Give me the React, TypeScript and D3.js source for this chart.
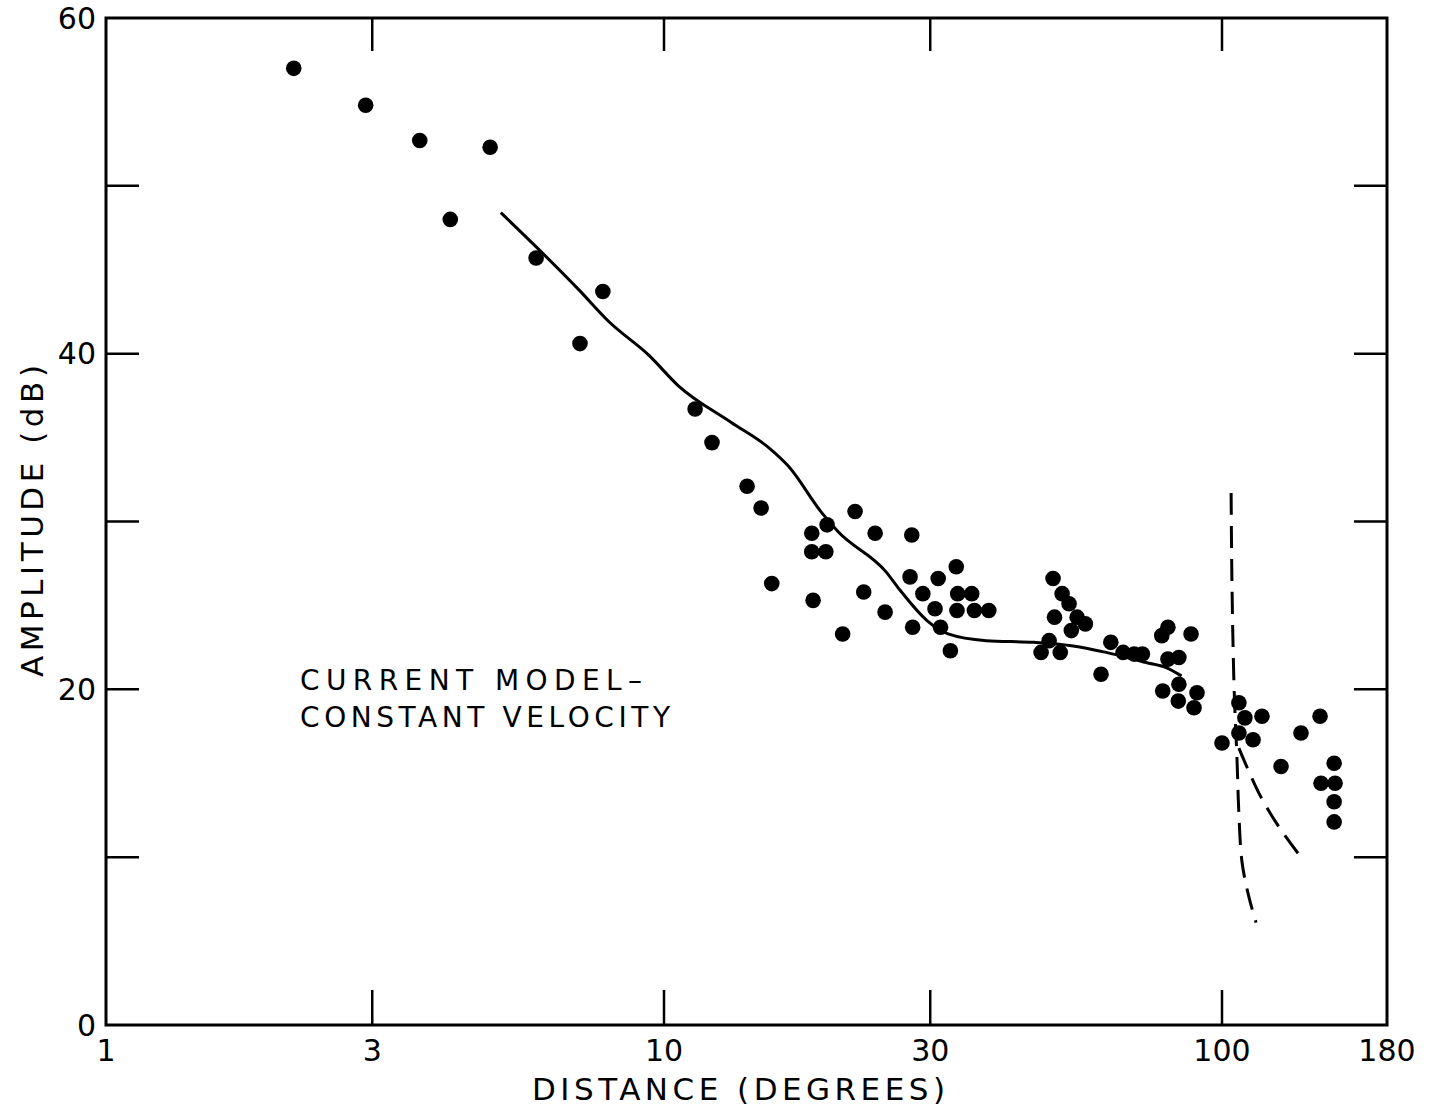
import React from "react";
import * as d3 from "d3";

// observed amplitudes (filled dots)
const distance = [
  2.17, 2.92, 3.65, 4.88, 4.14, 5.9, 7.77, 7.07,
  11.37, 12.19, 14.09, 14.93, 15.6, 18.4, 19.6, 18.4, 19.5, 18.5,
  22.0, 23.9, 22.8, 20.9, 24.9, 27.8, 27.6, 27.9, 31.0, 29.1, 30.6, 31.3,
  32.6, 33.4, 33.6, 35.6, 33.5, 36.0, 38.2,
  49.8, 51.7, 53.2, 50.1, 55.0, 56.9, 53.7, 49.0, 47.4, 51.3,
  63.2, 60.7, 66.5, 69.6, 72.0, 78.0, 80.0, 88.0, 80.0, 83.7, 78.3, 83.7, 90.2, 83.5, 89.1,
  106.2, 108.5, 115.3, 106.2, 111.7, 100, 132.5, 141.8, 123.4, 149.1, 142.3, 149.6, 149.1, 149.1,
];
const amplitude = [
  57.0, 54.8, 52.7, 52.3, 48.0, 45.7, 43.7, 40.6,
  36.7, 34.7, 32.1, 30.8, 26.3, 29.3, 29.8, 28.2, 28.2, 25.3,
  30.6, 29.3, 25.8, 23.3, 24.6, 29.2, 26.7, 23.7, 26.6, 25.7, 24.8, 23.7,
  22.3, 27.3, 25.7, 25.7, 24.7, 24.7, 24.7,
  26.6, 25.7, 25.1, 24.3, 24.3, 23.9, 23.5, 22.9, 22.2, 22.2,
  22.8, 20.9, 22.2, 22.1, 22.1, 23.2, 23.7, 23.3, 21.8, 21.9, 19.9, 20.3, 19.8, 19.3, 18.9,
  19.2, 18.3, 18.4, 17.4, 17.0, 16.8, 17.4, 18.4, 15.4, 15.6, 14.4, 14.4, 13.3, 12.1,
];

// current model, constant velocity (solid)
const modelDist = [5.1, 5.97, 7.04, 7.97, 9.4, 10.6, 13.2, 15.4, 16.7, 19.2, 20.5, 25.0, 26.5, 29.6, 32.3, 37.8, 46.0, 53.7, 62.0, 73.1, 79.4, 84.6];
const modelAmp = [48.4, 46.2, 43.8, 41.9, 39.9, 38.1, 35.9, 34.4, 33.3, 30.5, 29.4, 27.0, 25.9, 24.1, 23.3, 22.9, 22.8, 22.6, 22.2, 21.6, 21.3, 20.8];

// dashed branches past 100 degrees
const branchADist = [103.3, 103.6, 104.4, 105.5, 106.2, 107.4, 110.1, 112.9];
const branchAAmp = [31.7, 26.5, 20.1, 15.8, 12.6, 9.7, 7.6, 6.1];
const branchBDist = [106.2, 114.1, 122.5, 132.5];
const branchBAmp = [16.5, 13.8, 11.8, 10.0];

const xTickValues = [1, 3, 10, 30, 100, 180];
const xInnerTicks = [3, 10, 30, 100];
const yTickValues = [10, 20, 30, 40, 50];
const yLabelValues = [0, 20, 40, 60];

const font = "'DejaVu Sans', sans-serif";

export default function App() {
  const width = 1431;
  const height = 1110;
  const left = 106, right = 1387, top = 18, bottom = 1025;

  const x = d3.scaleLog().domain([1, 100, 180]).range([left, 1222, right]);
  const y = d3.scaleLinear().domain([0, 60]).range([bottom, top]);

  const line = d3.line<[number, number]>()
    .x(d => x(d[0]))
    .y(d => y(d[1]))
    .curve(d3.curveMonotoneX);
  const dashLine = d3.line<[number, number]>()
    .x(d => x(d[0]))
    .y(d => y(d[1]))
    .curve(d3.curveCatmullRom);

  const model = modelDist.map((d, i) => [d, modelAmp[i]] as [number, number]);
  const branchA = branchADist.map((d, i) => [d, branchAAmp[i]] as [number, number]);
  const branchB = branchBDist.map((d, i) => [d, branchBAmp[i]] as [number, number]);

  const tickLen = 33;

  return (
    <svg width={width} height={height} style={{ position: "absolute", left: 0, top: 0, background: "#fff" }}>
      <rect x={left} y={top} width={right - left} height={bottom - top} fill="none" stroke="#000" strokeWidth={3} />

      {/* top and bottom ticks */}
      {xInnerTicks.map(t => (
        <g key={"xt" + t} stroke="#000" strokeWidth={2.5}>
          <line x1={x(t)} x2={x(t)} y1={top} y2={top + tickLen} />
          <line x1={x(t)} x2={x(t)} y1={bottom} y2={bottom - tickLen - 2} />
        </g>
      ))}
      {/* left and right ticks */}
      {yTickValues.map(t => (
        <g key={"yt" + t} stroke="#000" strokeWidth={2.5}>
          <line x1={left} x2={left + tickLen} y1={y(t)} y2={y(t)} />
          <line x1={right} x2={right - tickLen} y1={y(t)} y2={y(t)} />
        </g>
      ))}

      {/* tick labels */}
      <g fontFamily={font} fontSize={30} fill="#000">
        {xTickValues.map(t => (
          <text key={"xl" + t} x={x(t)} y={1061} textAnchor="middle">{t}</text>
        ))}
        {yLabelValues.map(t => (
          <text key={"yl" + t} x={96} y={y(t)} dy="0.36em" textAnchor="end">{t}</text>
        ))}
      </g>

      {/* axis titles */}
      <text x={532} y={1100} fontFamily={font} fontSize={31} textLength={413} lengthAdjust="spacing">DISTANCE (DEGREES)</text>
      <text transform="translate(43,677) rotate(-90)" fontFamily={font} fontSize={31} textLength={312} lengthAdjust="spacing">AMPLITUDE (dB)</text>

      {/* annotation */}
      <g fontFamily={font} fontSize={28}>
        <text x={300} y={690} textLength={342} lengthAdjust="spacing">CURRENT MODEL–</text>
        <text x={300} y={727} textLength={370} lengthAdjust="spacing">CONSTANT VELOCITY</text>
      </g>

      {/* model curves */}
      <path d={line(model) ?? ""} fill="none" stroke="#000" strokeWidth={3} />
      <path d={dashLine(branchA) ?? ""} fill="none" stroke="#000" strokeWidth={3} strokeDasharray="22 11" />
      <path d={dashLine(branchB) ?? ""} fill="none" stroke="#000" strokeWidth={3} strokeDasharray="22 11" />

      {/* observations */}
      <g fill="#000">
        {distance.map((d, i) => (
          <circle key={i} cx={x(d)} cy={y(amplitude[i])} r={7.8} />
        ))}
      </g>
    </svg>
  );
}
